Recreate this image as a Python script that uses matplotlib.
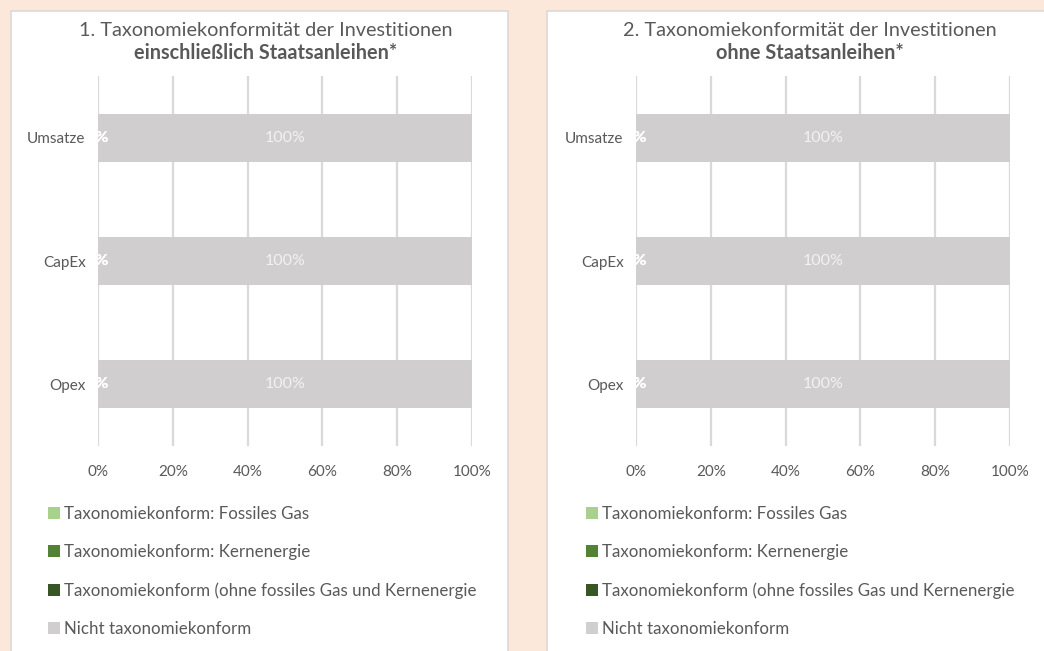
import matplotlib
matplotlib.use('agg')
import matplotlib.pyplot as plt
from matplotlib.patches import Rectangle

plt.rcParams['font.family'] = ['Lato', 'DejaVu Sans']

categories = ['Umsatze', 'CapEx', 'Opex']
series_names = ['Taxonomiekonform: Fossiles Gas',
                'Taxonomiekonform: Kernenergie',
                'Taxonomiekonform (ohne fossiles Gas und Kernenergie',
                'Nicht taxonomiekonform']
colors = ['#A9D18E', '#548235', '#375623', '#D0CECE']

# values in %, order: Umsatze, CapEx, Opex
values_incl = [[0, 0, 0], [0, 0, 0], [0, 0, 0], [100, 100, 100]]
values_excl = [[0, 0, 0], [0, 0, 0], [0, 0, 0], [100, 100, 100]]

titles = [('1. Taxonomiekonformität der Investitionen', 'einschließlich Staatsanleihen*'),
          ('2. Taxonomiekonformität der Investitionen', 'ohne Staatsanleihen*')]

W, H = 1044, 651
fig = plt.figure(figsize=(W / 100, H / 100), dpi=100)
fig.patch.set_facecolor('#FCE8DA')

txt = '#595959'
grid = '#D9D9D9'

# white panels
for x0, x1 in [(11, 508), (547, 1060)]:
    fig.patches.append(Rectangle((x0 / W, -0.05), (x1 - x0) / W, (H - 11) / H + 0.05,
                                 transform=fig.transFigure, facecolor='white',
                                 edgecolor='#D9D9D9', linewidth=1.2, zorder=-10))

def draw(left_px, vals, title, tcenter):
    ax = fig.add_axes([left_px / W, 1 - 446 / H, 374 / W, 370 / H])
    ax.set_facecolor('none')
    y = list(range(len(categories)))
    left = [0] * len(categories)
    bars = []
    for name, v, c in zip(series_names, vals, colors):
        b = ax.barh(y, v, left=left, height=0.39, color=c, label=name, zorder=2)
        bars.append(b)
        left = [l + vv for l, vv in zip(left, v)]
    for b, v in zip(bars[:3], vals[:3]):
        ax.bar_label(b, labels=['%d%%' % vv for vv in v], label_type='center',
                     color='white', fontsize=11.5, fontweight='bold', zorder=3)
    ax.bar_label(bars[3], labels=['%d%%' % vv for vv in vals[3]], label_type='center',
                 color='#F2F2F2', fontsize=11.5, zorder=3)
    ax.set_xlim(0, 100)
    ax.set_ylim(2.5, -0.5)
    ax.set_yticks(y)
    ax.set_yticklabels(categories)
    ax.set_xticks([0, 20, 40, 60, 80, 100])
    ax.set_xticklabels(['0%', '20%', '40%', '60%', '80%', '100%'])
    ax.tick_params(axis='both', length=0, labelsize=11, labelcolor=txt)
    ax.tick_params(axis='x', pad=14)
    ax.tick_params(axis='y', pad=9)
    for s in ax.spines.values():
        s.set_visible(False)
    ax.grid(axis='x', color=grid, linewidth=1.6, zorder=1)
    ax.set_axisbelow(True)
    fig.text(tcenter / W, 1 - 30 / H, title[0], ha='center', va='center',
             fontsize=14.3, color=txt)
    fig.text(tcenter / W, 1 - 53 / H, title[1], ha='center', va='center',
             fontsize=14.3, color=txt, fontweight='bold')
    ax.legend(loc='upper left', bbox_to_anchor=((left_px - 50) / W, 1 - 506 / H),
              bbox_transform=fig.transFigure, frameon=False, fontsize=12.2,
              labelcolor=txt, handlelength=0.7, handleheight=0.7,
              handletextpad=0.22, labelspacing=1.3, borderpad=0, borderaxespad=0)
    return ax

draw(98, values_incl, titles[0], 266)
draw(636, values_excl, titles[1], 810)

plt.savefig('out.png', dpi=100, facecolor=fig.get_facecolor())
plt.close()
